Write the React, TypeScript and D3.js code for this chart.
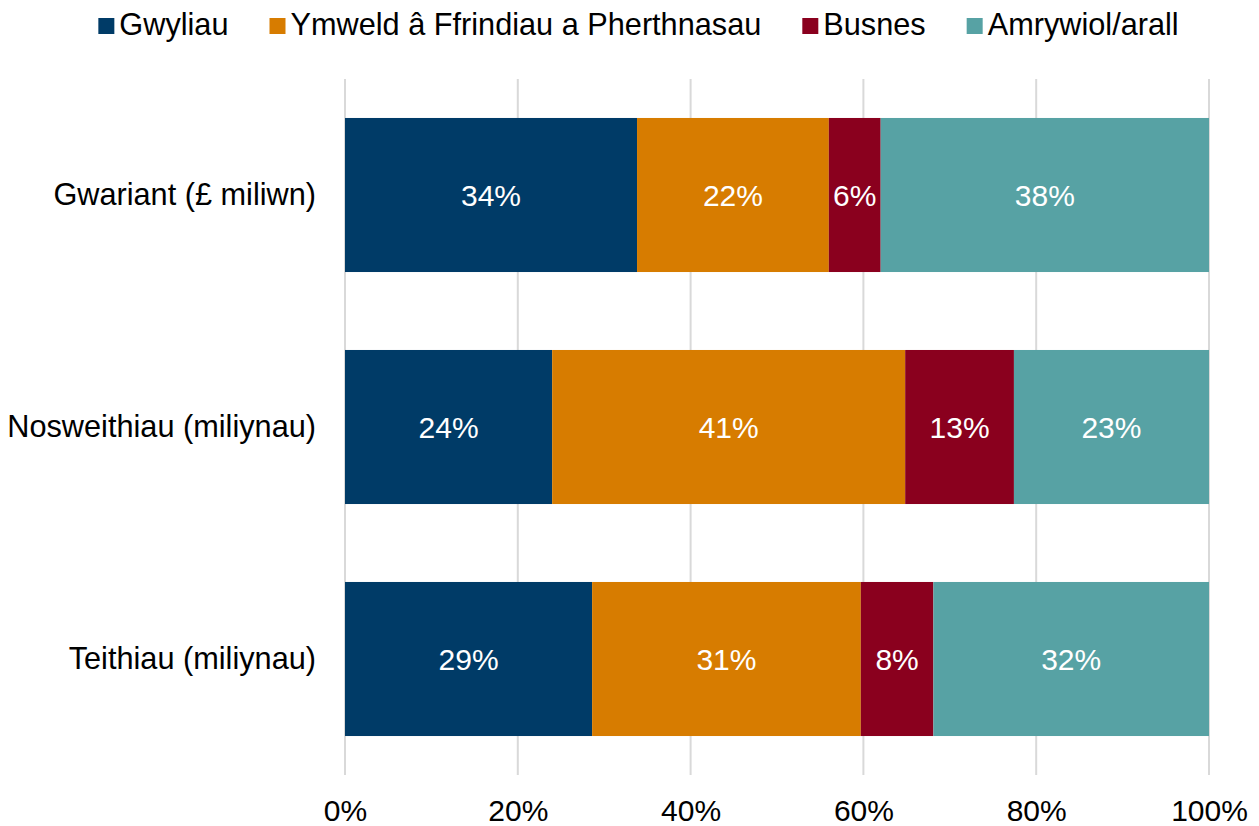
import React, { useEffect, useRef } from 'react';
import * as d3 from 'd3';

const categories = ['Gwariant (£ miliwn)', 'Nosweithiau (miliynau)', 'Teithiau (miliynau)'];
const seriesNames = ['Gwyliau', 'Ymweld â Ffrindiau a Pherthnasau', 'Busnes', 'Amrywiol/arall'];
const gwyliau = [33.8, 24.0, 28.6];
const ymweld = [22.2, 40.9, 31.1];
const busnes = [6.0, 12.6, 8.4];
const amrywiol = [38.0, 22.6, 31.9];
const colors = ['#003b67', '#d77c00', '#8a001e', '#57a2a4'];
const xTicks = [0, 0.2, 0.4, 0.6, 0.8, 1];

const App = () => {
  const svgRef = useRef<SVGSVGElement>(null);

  useEffect(() => {
    document.body.style.margin = '0';
    const width = 1259;
    const height = 826;
    const font = '"Liberation Sans", Arial, sans-serif';

    svgRef.current!.innerHTML = '';
    const svg = d3.select(svgRef.current)
      .attr('width', width)
      .attr('height', height)
      .style('font-family', font);

    const series = [gwyliau, ymweld, busnes, amrywiol];
    const rows = categories.map((c, i) => {
      const total = d3.sum(series, s => s[i]);
      const row: any = { cat: c };
      seriesNames.forEach((n, j) => { row[n] = series[j][i] / total; row[n + '_raw'] = series[j][i]; });
      return row;
    });
    const stacked = d3.stack().keys(seriesNames)(rows);

    const x = d3.scaleLinear().domain([0, 1]).range([345, 1209]);
    const y = d3.scaleBand()
      .domain(categories)
      .range([79, 775])
      .paddingInner(0.336)
      .paddingOuter(0.168);

    // gridlines
    svg.append('g')
      .selectAll('line')
      .data(xTicks)
      .enter()
      .append('line')
      .attr('x1', d => x(d))
      .attr('x2', d => x(d))
      .attr('y1', 79)
      .attr('y2', 775)
      .attr('stroke', '#d9d9d9')
      .attr('stroke-width', 2);

    // bars
    const layers = svg.append('g')
      .selectAll('g')
      .data(stacked)
      .enter()
      .append('g')
      .attr('fill', (d, i) => colors[i]);

    layers.selectAll('rect')
      .data(d => d)
      .enter()
      .append('rect')
      .attr('x', d => x(d[0]))
      .attr('y', d => y((d.data as any).cat)!)
      .attr('width', d => x(d[1]) - x(d[0]))
      .attr('height', y.bandwidth());

    // data labels
    stacked.forEach(layer => {
      svg.append('g')
        .selectAll('text')
        .data(layer)
        .enter()
        .append('text')
        .attr('x', d => (x(d[0]) + x(d[1])) / 2)
        .attr('y', d => y((d.data as any).cat)! + y.bandwidth() / 2)
        .attr('dy', '0.35em')
        .attr('text-anchor', 'middle')
        .attr('fill', '#fff')
        .attr('font-size', 30)
        .text(d => Math.round((d.data as any)[layer.key + '_raw']) + '%');
    });

    // category labels
    const yAxis = svg.append('g')
      .attr('transform', 'translate(345,0)')
      .call(d3.axisLeft(y).tickSize(0).tickPadding(29));
    yAxis.select('.domain').remove();
    yAxis.selectAll('text')
      .attr('font-size', 30.7)
      .attr('font-family', font)
      .attr('fill', '#000');

    // x tick labels
    const xAxis = svg.append('g')
      .attr('transform', 'translate(0,775)')
      .call(d3.axisBottom(x).tickValues(xTicks).tickFormat(d3.format('.0%')).tickSize(0).tickPadding(25));
    xAxis.select('.domain').remove();
    xAxis.selectAll('text')
      .attr('font-size', 30)
      .attr('font-family', font)
      .attr('fill', '#000');

    // legend
    const legend = svg.append('g');
    let lx = 0;
    seriesNames.forEach((n, i) => {
      const item = legend.append('g').attr('transform', `translate(${lx},0)`);
      item.append('rect')
        .attr('x', 0)
        .attr('y', 18)
        .attr('width', 16)
        .attr('height', 16)
        .attr('fill', colors[i]);
      const t = item.append('text')
        .attr('x', 21)
        .attr('y', 35)
        .attr('font-size', 30.7)
        .attr('fill', '#000')
        .text(n);
      const w = (t.node() as SVGTextElement).getComputedTextLength();
      lx += 21 + w + 41;
    });
    const legendWidth = lx - 41;
    legend.attr('transform', `translate(${(96 + 1181) / 2 - legendWidth / 2},0)`);
  }, []);

  return <svg ref={svgRef}></svg>;
};

export default App;
